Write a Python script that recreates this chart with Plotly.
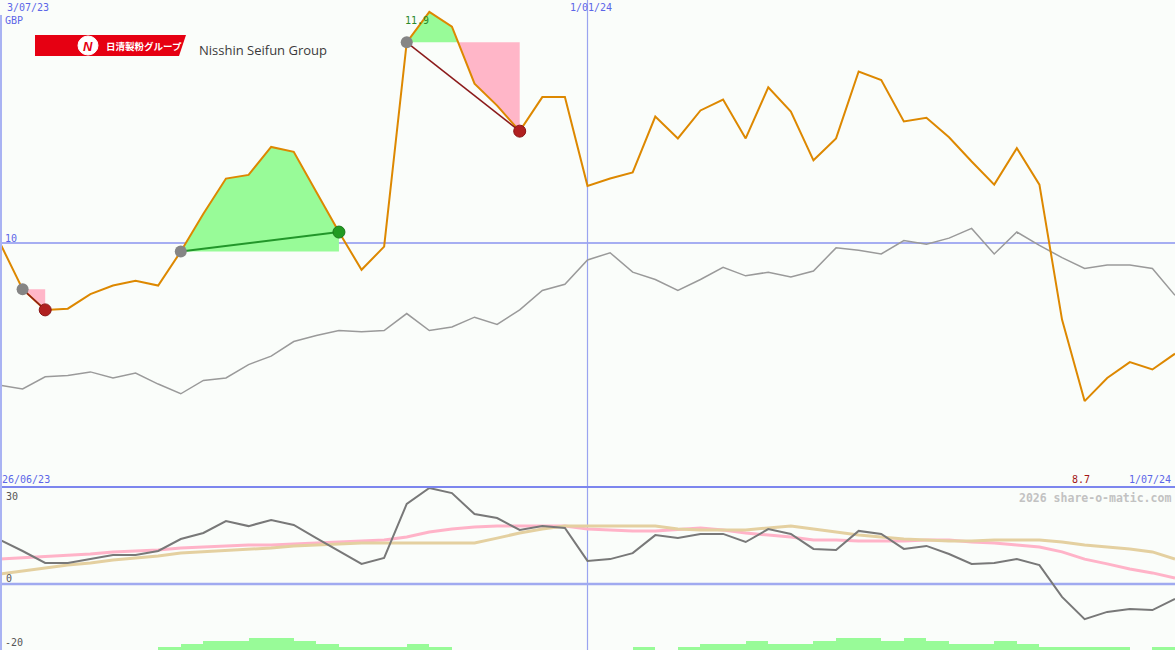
import plotly.graph_objects as go
import pandas as pd

W, H = 1175, 650

# ---------------- data ----------------
dates = pd.date_range("2023-07-03", periods=53, freq="7D")

price = [10.00, 9.62, 9.45, 9.46, 9.58, 9.65, 9.69, 9.65, 9.93, 10.24,
         10.53, 10.56, 10.79, 10.75, 10.42, 10.09, 9.78, 9.97, 11.65, 11.90,
         11.78, 11.31, 11.13, 10.92, 11.20, 11.20, 10.47, 10.53, 10.58, 11.04,
         10.86, 11.09, 11.18, 10.86, 11.28, 11.08, 10.68, 10.86, 11.41, 11.34,
         11.00, 11.03, 10.87, 10.67, 10.48, 10.78, 10.48, 9.37, 8.70, 8.89,
         9.02, 8.96, 9.09]

relative = [8.83, 8.80, 8.90, 8.91, 8.94, 8.89, 8.93, 8.84, 8.76, 8.87,
            8.89, 9.00, 9.07, 9.19, 9.24, 9.28, 9.27, 9.28, 9.42, 9.28,
            9.31, 9.39, 9.33, 9.45, 9.61, 9.66, 9.86, 9.92, 9.76, 9.70,
            9.61, 9.70, 9.80, 9.73, 9.76, 9.72, 9.77, 9.96, 9.94, 9.91,
            10.02, 9.99, 10.04, 10.12, 9.91, 10.09, 9.98, 9.88, 9.79, 9.82,
            9.82, 9.79, 9.57]

momentum = [14.7, 11.0, 7.0, 7.0, 8.3, 9.7, 9.7, 11.0, 15.0, 17.0,
            21.0, 19.3, 21.3, 19.7, 15.3, 11.0, 6.7, 8.7, 26.7, 32.0,
            30.3, 23.3, 22.0, 18.0, 19.3, 18.7, 7.7, 8.3, 10.3, 16.3,
            15.3, 16.7, 16.7, 14.0, 18.3, 16.7, 11.7, 11.3, 17.7, 16.7,
            11.7, 12.7, 10.0, 6.7, 7.0, 8.3, 6.3, -4.3, -11.7, -9.3,
            -8.3, -8.7, -5.0]

avg_pink = [8.3, 8.7, 9.3, 9.7, 10.0, 10.7, 11.0, 11.3, 12.0, 12.3,
            12.7, 13.0, 13.0, 13.3, 13.7, 14.0, 14.3, 14.7, 15.7, 17.3,
            18.3, 19.0, 19.3, 19.3, 19.3, 19.3, 18.3, 18.0, 17.7, 17.7,
            18.3, 18.7, 18.0, 17.0, 16.3, 15.7, 14.7, 14.7, 14.3, 14.3,
            14.3, 14.7, 14.7, 14.0, 13.7, 13.0, 12.3, 10.7, 8.3, 6.7,
            5.0, 3.7, 2.0]

avg_tan = [3.3, 4.3, 5.3, 6.3, 7.0, 8.0, 8.7, 9.3, 10.3, 10.7,
           11.3, 11.7, 12.0, 12.7, 13.0, 13.3, 13.7, 13.7, 13.7, 13.7,
           13.7, 13.7, 15.3, 17.0, 18.3, 19.3, 19.3, 19.3, 19.3, 19.3,
           18.3, 18.0, 18.0, 18.0, 18.7, 19.3, 18.3, 17.3, 16.3, 15.7,
           15.0, 14.7, 14.3, 14.3, 14.7, 14.7, 14.7, 14.0, 13.0, 12.3,
           11.7, 10.7, 8.3]

weekly_bars = [0, 0, 0, 0, 0, 0, 0, 1, 2, 3,
               3, 4, 4, 3, 2, 1, 1, 1, 2, 1,
               0, 0, 0, 0, 0, 0, 0, 0, 1, 0,
               1, 2, 2, 3, 2, 2, 3, 4, 4, 3,
               4, 3, 2, 2, 3, 2, 1, 1, 1, 1,
               0, 1]

trades = [(1, 2), (8, 15), (18, 23)]  # (entry index, exit index)

# ---------------- layout constants ----------------
SPLIT = 163 / 650
P_TOP = 10 + 243 / 121.6
P_BOT = 10 - (487 - 243) / 121.6
O_TOP = 97 / 3
O_BOT = -66 / 3
BG = "#fafdfa"
BLUE_TXT = "#5c66e8"
MONO = "DejaVu Sans Mono"


def px(x, y):
    return x / W, 1 - y / H


fig = go.Figure()

# relative-strength line
fig.add_trace(go.Scatter(x=dates, y=relative, mode="lines",
                         line=dict(color="#9a9a9a", width=1.5), hoverinfo="skip"))

# trade fills
for s, e in trades:
    lvl = price[s]
    pts = []
    for i in range(s, e + 1):
        pts.append((dates[i], price[i]))
        if i < e:
            p0, p1 = price[i], price[i + 1]
            if (p0 - lvl) * (p1 - lvl) < 0:
                f = (lvl - p0) / (p1 - p0)
                pts.append((dates[i] + (dates[i + 1] - dates[i]) * f, lvl))
    xs = [p[0] for p in pts]
    up = [max(p[1], lvl) for p in pts]
    dn = [min(p[1], lvl) for p in pts]
    fig.add_trace(go.Scatter(x=xs + [xs[-1], xs[0]], y=up + [lvl, lvl], mode="lines",
                             fill="toself", fillcolor="#98fb98", line=dict(width=0),
                             hoverinfo="skip"))
    fig.add_trace(go.Scatter(x=xs + [xs[-1], xs[0]], y=dn + [lvl, lvl], mode="lines",
                             fill="toself", fillcolor="#ffb6c8", line=dict(width=0),
                             hoverinfo="skip"))

# price line
fig.add_trace(go.Scatter(x=dates, y=price, mode="lines",
                         line=dict(color="#dd8800", width=2), hoverinfo="skip"))

# trade lines and dots
for s, e in trades:
    gain = price[e] > price[s]
    col = "#22962a" if gain else "#8b1a1a"
    fig.add_trace(go.Scatter(x=[dates[s], dates[e]], y=[price[s], price[e]], mode="lines",
                             line=dict(color=col, width=2 if gain else 1.5), hoverinfo="skip"))
    fig.add_trace(go.Scatter(x=[dates[s]], y=[price[s]], mode="markers",
                             marker=dict(color="#858585", size=12, line=dict(width=0)),
                             hoverinfo="skip"))
    fig.add_trace(go.Scatter(x=[dates[e]], y=[price[e]], mode="markers",
                             marker=dict(color="#229a22" if gain else "#b02020", size=12,
                                         line=dict(width=1, color="#1a7a1a" if gain else "#8a1515")),
                             hoverinfo="skip"))

# lower panel: bars
bar_x = [dates[j] + pd.Timedelta(days=3.5) for j in range(len(weekly_bars))]
fig.add_trace(go.Bar(x=bar_x, y=weekly_bars, base=O_BOT, yaxis="y2",
                     width=7 * 24 * 3600 * 1000, marker=dict(color="#98fb98", line=dict(width=0)),
                     hoverinfo="skip"))
fig.add_trace(go.Scatter(x=dates, y=avg_pink, yaxis="y2", mode="lines",
                         line=dict(color="#ffb3c8", width=3), hoverinfo="skip"))
fig.add_trace(go.Scatter(x=dates, y=avg_tan, yaxis="y2", mode="lines",
                         line=dict(color="#e4d0a0", width=3), hoverinfo="skip"))
fig.add_trace(go.Scatter(x=dates, y=momentum, yaxis="y2", mode="lines",
                         line=dict(color="#787878", width=2), hoverinfo="skip"))

shapes = [
    dict(type="line", xref="paper", yref="y", x0=0, x1=1, y0=10, y1=10,
         line=dict(color="#a6aef2", width=2), layer="below"),
    dict(type="line", xref="x", yref="paper", x0="2024-01-01", x1="2024-01-01", y0=0, y1=1,
         line=dict(color="#9aa4f0", width=1.2), layer="below"),
    dict(type="line", xref="paper", yref="y2", x0=0, x1=1, y0=0, y1=0,
         line=dict(color="#a0aaf0", width=2.5), layer="below"),
    dict(type="line", xref="paper", yref="paper", x0=0, x1=1, y0=SPLIT, y1=SPLIT,
         line=dict(color="#7c86ee", width=2), layer="above"),
    dict(type="line", xref="paper", yref="paper", x0=1 / W, x1=1 / W, y0=0, y1=1 - 15 / H,
         line=dict(color="#a9b3f3", width=2), layer="above"),
]

# logo
a = px(35, 35); b = px(186, 35); c = px(179, 56); d = px(35, 56)
shapes.append(dict(type="path", xref="paper", yref="paper",
                   path=f"M {a[0]},{a[1]} L {b[0]},{b[1]} L {c[0]},{c[1]} L {d[0]},{d[1]} Z",
                   fillcolor="#e60012", line=dict(width=0), layer="above"))
c0 = px(78, 36); c1 = px(98, 55)
shapes.append(dict(type="circle", xref="paper", yref="paper", x0=c0[0], y0=c1[1], x1=c1[0], y1=c0[1],
                   fillcolor="#ffffff", line=dict(color="#ffffff", width=1), layer="above"))

ann = []


def label(text, x, y, xref, yref, xanchor, yanchor, color, size=10, xshift=0, yshift=0,
          family=MONO):
    ann.append(dict(text=text, x=x, y=y, xref=xref, yref=yref, xanchor=xanchor, yanchor=yanchor,
                    showarrow=False, font=dict(family=family, size=size, color=color),
                    xshift=xshift, yshift=yshift, borderpad=0))


label("3/07/23", dates[0], 1, "x", "paper", "left", "top", BLUE_TXT, xshift=6, yshift=-1)
label("GBP", 0, 1, "paper", "paper", "left", "top", BLUE_TXT, xshift=4, yshift=-14)
label("1/01/24", "2024-01-01", 1, "x", "paper", "center", "top", BLUE_TXT, xshift=3, yshift=-1)
label("10", 0, 10, "paper", "y", "left", "bottom", BLUE_TXT, xshift=4, yshift=-2)
label("26/06/23", 0, SPLIT, "paper", "paper", "left", "bottom", BLUE_TXT, xshift=1, yshift=1)
imin = price.index(min(price))
label(f"{min(price):.1f}", dates[imin], SPLIT, "x", "paper", "center", "bottom", "#a31515",
      xshift=-4, yshift=1)
label("1/07/24", 1, SPLIT, "paper", "paper", "right", "bottom", BLUE_TXT, xshift=-3, yshift=1)
label("2026 share-o-matic.com", 1, SPLIT, "paper", "paper", "right", "top", "#c2c2c2",
      size=11.5, xshift=-3, yshift=-3)
ann[-1]["font"]["weight"] = "bold"
label("30", 0, 30, "paper", "y2", "left", "middle", "#555555", xshift=5, yshift=-2)
label("0", 0, 0, "paper", "y2", "left", "bottom", "#555555", xshift=5, yshift=-1)
label("-20", 0, -20, "paper", "y2", "left", "middle", "#555555", xshift=4, yshift=2)
imax = price.index(max(price))
label(f"{max(price):.1f}", dates[imax], max(price), "x", "y", "right", "middle", "#2a8a2a",
      xshift=1, yshift=-9)

# logo texts
label("N", px(88, 0)[0], px(0, 46)[1], "paper", "paper", "center", "middle", "#e60012",
      size=13, family="Liberation Sans")
ann[-1]["font"]["weight"] = "bold"
ann[-1]["font"]["style"] = "italic"
label("日清製粉グループ", px(105, 0)[0], px(0, 46)[1], "paper", "paper", "left", "middle", "#ffffff",
      size=9.5, family="Noto Sans CJK JP")
ann[-1]["font"]["weight"] = "bold"
label("Nisshin Seifun Group", px(198, 0)[0], px(0, 50)[1], "paper", "paper", "left", "middle",
      "#3a3a3a", size=13, family="Open Sans")

fig.update_layout(
    width=W, height=H, autosize=False,
    margin=dict(l=0, r=0, t=0, b=0, pad=0),
    paper_bgcolor=BG, plot_bgcolor=BG,
    showlegend=False, bargap=0,
    xaxis=dict(type="date", range=[dates[0], dates[-1]], visible=False, fixedrange=True),
    yaxis=dict(domain=[SPLIT, 1], range=[P_BOT, P_TOP], visible=False),
    yaxis2=dict(domain=[0, SPLIT], range=[O_BOT, O_TOP], visible=False, anchor="x"),
    shapes=shapes, annotations=ann,
)

fig.write_html("out.html",
               config={"displayModeBar": False},
               post_script="document.body.style.margin='0';document.body.style.overflow='hidden';")
